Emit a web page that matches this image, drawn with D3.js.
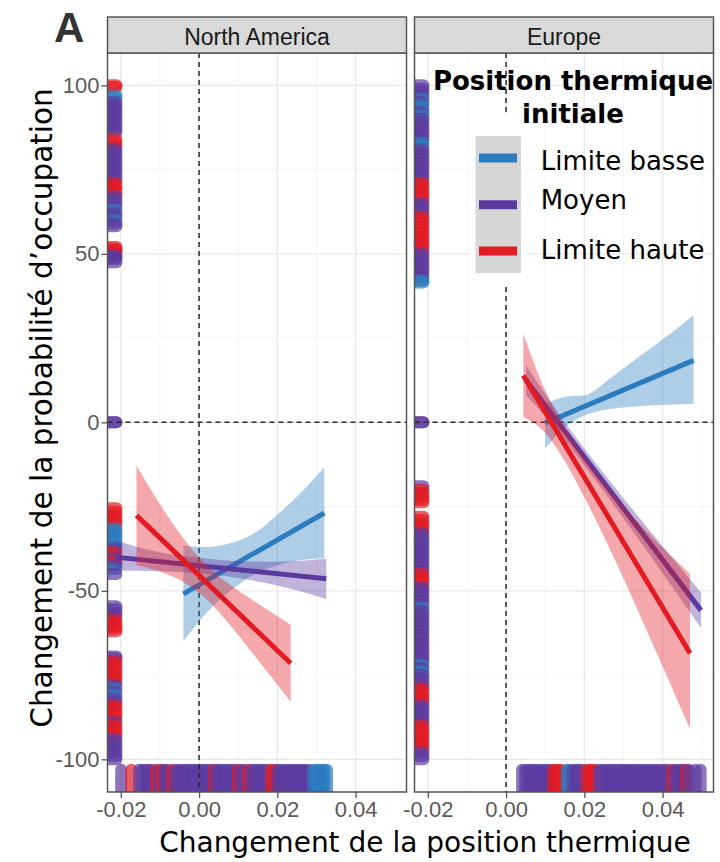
<!DOCTYPE html>
<html>
<head>
<meta charset="utf-8">
<script src="https://cdn.jsdelivr.net/npm/d3@7"></script>
<style>
  body { margin: 0; background: #fff; }
  svg { display: block; }
</style>
</head>
<body>
<svg id="chart" width="720" height="862"></svg>
<script>
// ---- categories and axis ticks ----
const regions = ["North America", "Europe"];
const groupNames = ["Limite basse", "Moyen", "Limite haute"];
const groupCodes = ["B", "M", "H"];
const groupColors = ["#2b7bbf", "#5b3a9f", "#e31a22"];
const xTicks = [-0.02, 0, 0.02, 0.04];
const xMinorTicks = [-0.01, 0.01, 0.03, 0.05];
const yTicks = [-100, -50, 0, 50, 100];
const yMinorTicks = [-75, -25, 25, 75];

// ---- fitted trends: [x, y] at the two ends ----
const naLineB = [[-0.004, -50.9], [0.032, -26.9]];
const naLineM = [[-0.0214, -40.0], [0.0325, -46.4]];
const naLineH = [[-0.016, -27.6], [0.0234, -71.5]];
const euLineB = [[0.010, -0.2], [0.0479, 18.4]];
const euLineM = [[0.0051, 12.5], [0.0498, -55.8]];
const euLineH = [[0.0044, 13.9], [0.047, -68.5]];

// ---- confidence bands: [x, lower, upper] ----
const naBandB = [[-0.004, -64.9, -36.6], [0.002, -56.4, -37.0], [0.008, -49.9, -35.9], [0.014, -45.2, -33.0],
                 [0.020, -42.4, -27.4], [0.026, -40.9, -20.9], [0.032, -40.3, -13.3]];
const naBandM = [[-0.0214, -44.0, -35.0], [-0.010, -44.2, -38.6], [0.000, -44.8, -40.2], [0.010, -46.2, -41.2],
                 [0.020, -48.4, -41.4], [0.0325, -52.4, -40.4]];
const naBandH = [[-0.016, -42.4, -12.8], [-0.010, -44.3, -24.3], [-0.004, -47.4, -34.4], [0.002, -52.6, -42.6],
                 [0.008, -60.3, -48.3], [0.014, -69.0, -53.0], [0.0234, -82.9, -60.1]];
const euBandB = [[0.010, -7.7, 5.5], [0.015, -1.5, 7.5], [0.020, 2.0, 8.0], [0.027, 4.0, 13.4],
                 [0.034, 4.8, 19.5], [0.041, 5.2, 25.5], [0.0479, 5.5, 31.8]];
const euBandM = [[0.0051, 8.0, 17.0], [0.012, -1.0, 5.0], [0.020, -12.8, -7.8], [0.030, -28.5, -22.5],
                 [0.040, -44.8, -36.8], [0.0498, -61.0, -50.5]];
const euBandH = [[0.0044, 1.6, 26.3], [0.009, -1.9, 12.1], [0.014, -9.6, 0.4], [0.020, -22.2, -10.2],
                 [0.027, -38.8, -20.8], [0.035, -59.3, -31.3], [0.047, -91.0, -45.0]];

// ---- species rugs: [value, group code] ----
const naRugY = [
  [100,"H"],[99.5,"H"],[97,"B"],[96,"B"],[95,"M"],[94,"M"],[93,"M"],[92,"M"],[91,"M"],[90,"M"],[89,"M"],[88,"M"],
  [87,"M"],[86,"M"],[84,"H"],[83,"H"],[82,"H"],[81,"M"],[80,"M"],[79,"M"],[78,"M"],[77,"M"],[76,"M"],[75,"M"],
  [74,"M"],[73,"M"],[72,"M"],[71,"H"],[70,"H"],[69,"H"],[68,"H"],[67,"M"],[66,"M"],[65,"M"],[64,"M"],[63,"B"],
  [62,"M"],[61,"M"],[60,"B"],[59,"M"],[58.2,"M"],
  [47.5,"M"],[52,"H"],[51.5,"H"],[51,"H"],[50.5,"H"],[49.5,"M"],[49,"M"],[48.5,"M"],
  [0,"M"],[0,"M"],
  [-25.5,"H"],[-26.5,"H"],[-27.5,"H"],[-28.5,"H"],[-29.5,"H"],[-30.5,"H"],[-31.5,"B"],[-32.5,"B"],[-33.5,"B"],
  [-34.5,"B"],[-35.5,"B"],[-36.5,"B"],[-37.5,"M"],[-38.5,"H"],[-39.5,"H"],[-40.5,"M"],[-41.5,"H"],[-42.5,"M"],
  [-43.5,"B"],[-45,"M"],
  [-54.6,"M"],[-55.5,"M"],[-56.5,"M"],[-57.5,"M"],[-58.5,"H"],[-59.5,"H"],[-60.5,"H"],[-61.2,"H"],[-62,"H"],
  [-69.5,"M"],[-70,"M"],[-71,"H"],[-72,"H"],[-73,"H"],[-74,"H"],[-75,"H"],[-76,"H"],[-77,"H"],[-78,"M"],
  [-79,"B"],[-80,"M"],[-81,"B"],[-82,"M"],[-83,"M"],[-84,"H"],[-85,"H"],[-86,"H"],[-87,"H"],[-88,"H"],[-89,"M"],
  [-90,"H"],[-91,"H"],[-92,"H"],[-93,"H"],[-94,"M"],[-95,"M"],[-96,"M"],[-97,"M"],[-98,"M"],[-99,"M"],[-100,"M"]
];
const naRugX = [
  [-0.0199,"M"],[-0.0173,"H"],
  [-0.0153,"M"],[-0.0145,"M"],[-0.0137,"M"],[-0.0129,"M"],[-0.0121,"M"],[-0.011,"H"],[-0.0102,"M"],[-0.0095,"H"],
  [-0.0088,"M"],[-0.008,"M"],[-0.0068,"H"],[-0.006,"M"],[-0.0052,"M"],[-0.0044,"M"],[-0.0036,"M"],[-0.0028,"M"],
  [-0.002,"M"],[-0.0012,"M"],[-0.0004,"M"],[0.0004,"M"],[0.0012,"M"],[0.002,"M"],[0.0028,"M"],[0.0038,"H"],
  [0.0044,"M"],[0.0052,"M"],[0.006,"M"],[0.0068,"M"],[0.0076,"M"],[0.0084,"M"],[0.0092,"M"],[0.01,"H"],
  [0.0108,"M"],[0.0116,"M"],[0.0126,"H"],[0.0134,"M"],[0.0142,"M"],[0.015,"M"],[0.0158,"M"],[0.0166,"M"],
  [0.0174,"M"],[0.0184,"H"],[0.0192,"H"],[0.02,"M"],[0.0208,"M"],[0.0216,"M"],[0.0224,"M"],[0.0232,"M"],
  [0.024,"M"],[0.0248,"M"],[0.0256,"M"],[0.0264,"M"],[0.0272,"M"],[0.028,"M"],[0.0292,"B"],[0.0299,"B"],
  [0.0306,"B"],[0.0313,"B"],[0.032,"B"],[0.0327,"B"]
];
const euRugY = [
  [100,"M"],[99,"M"],[98,"M"],[97,"M"],[96,"B"],[95,"M"],[94,"B"],[93,"B"],[92,"M"],[91,"B"],[90,"M"],[89,"M"],
  [88,"M"],[87,"M"],[86,"M"],[85,"M"],[84,"M"],[83,"B"],[82,"B"],[81,"M"],[80,"M"],[79,"M"],[78,"M"],[77,"M"],
  [76,"M"],[75,"M"],[74,"M"],[73,"M"],[72,"M"],[71,"H"],[70,"H"],[69,"H"],[68,"H"],[67,"H"],[66,"H"],[65,"M"],
  [64,"M"],[63,"M"],[62,"M"],[61,"H"],[60,"H"],[59,"H"],[58,"H"],[57,"H"],[56,"H"],[55,"H"],[54,"H"],[53,"H"],
  [52,"H"],[51,"H"],[50,"M"],[49,"M"],[48,"M"],[47,"M"],[46,"M"],[45,"M"],[44,"M"],[43,"M"],[42,"B"],[41.5,"B"],
  [0,"M"],[0,"M"],
  [-19,"M"],[-20,"H"],[-21,"H"],[-22,"H"],[-23,"H"],[-23.7,"H"],
  [-28,"H"],[-29,"H"],[-30,"H"],[-31,"H"],[-32,"H"],[-33,"M"],[-34,"M"],[-35,"M"],[-36,"M"],[-37,"M"],[-38,"M"],
  [-39,"M"],[-40,"M"],[-41,"M"],[-42,"M"],[-43,"M"],[-44,"M"],[-45,"H"],[-46,"H"],[-47,"H"],[-48,"H"],[-49,"M"],
  [-50,"M"],[-51,"M"],[-52,"M"],[-53,"M"],[-54,"M"],[-55,"B"],[-56,"M"],[-57,"M"],[-58,"M"],[-59,"M"],[-60,"M"],
  [-61,"M"],[-62,"M"],[-63,"M"],[-64,"M"],[-65,"M"],[-66,"M"],[-67,"M"],[-68,"M"],[-69,"M"],[-70,"M"],[-71,"M"],
  [-72,"B"],[-73,"M"],[-74,"B"],[-75,"M"],[-76,"M"],[-77,"M"],[-78,"M"],[-79,"H"],[-80,"H"],[-81,"H"],[-82,"H"],
  [-83,"H"],[-84,"M"],[-85,"M"],[-86,"M"],[-87,"M"],[-88,"M"],[-89,"M"],[-90,"H"],[-91,"H"],[-92,"H"],[-93,"H"],
  [-94,"H"],[-95,"H"],[-96,"H"],[-97,"H"],[-98,"M"],[-99,"M"],[-100,"M"]
];
const euRugX = [
  [0.0041,"M"],[0.0049,"M"],[0.0057,"M"],[0.0065,"M"],[0.0073,"M"],[0.0081,"M"],[0.0089,"M"],[0.0097,"M"],
  [0.0105,"M"],[0.0112,"M"],[0.012,"H"],[0.0127,"H"],[0.0134,"H"],[0.0141,"H"],[0.0155,"B"],[0.016,"B"],
  [0.017,"M"],[0.0178,"M"],[0.0186,"M"],[0.0194,"M"],[0.0206,"H"],[0.0213,"H"],[0.022,"H"],[0.0228,"H"],
  [0.0238,"M"],[0.0246,"M"],[0.0254,"M"],[0.0262,"M"],[0.027,"M"],[0.0278,"M"],[0.0286,"M"],[0.0294,"M"],
  [0.0302,"M"],[0.031,"M"],[0.0318,"M"],[0.0326,"M"],[0.0334,"M"],[0.0342,"M"],[0.035,"M"],[0.0358,"M"],
  [0.0366,"M"],[0.0374,"M"],[0.0382,"M"],[0.039,"M"],[0.0398,"M"],[0.0406,"M"],[0.0414,"M"],[0.0425,"H"],
  [0.0432,"M"],[0.044,"M"],[0.0448,"M"],[0.0455,"M"],[0.0461,"H"],[0.0468,"M"],[0.0484,"M"],[0.0497,"M"]
];

// ---- assemble the facets ----
const facets = [
  { name: regions[0], lines: [naLineB, naLineM, naLineH], bands: [naBandB, naBandM, naBandH], rugY: naRugY, rugX: naRugX },
  { name: regions[1], lines: [euLineB, euLineM, euLineH], bands: [euBandB, euBandM, euBandH], rugY: euRugY, rugX: euRugX }
];
const colorOf = code => groupColors[groupCodes.indexOf(code)];

// ---- layout ----
const svg = d3.select("#chart");
const panelLeft = [107.5, 414.5];
const panelW = 299;
const panelTop = 53, panelBottom = 792;
const stripTop = 17;
const tickFont = "'Liberation Sans', Arial, Helvetica, sans-serif";
const textFont = "'DejaVu Sans', Verdana, sans-serif";

const y = d3.scaleLinear().domain([-109.7, 109.6]).range([panelBottom, panelTop]);

svg.append("rect").attr("width", 720).attr("height", 862).attr("fill", "#fff");

facets.forEach((f, i) => {
  const x0 = panelLeft[i];
  const x = d3.scaleLinear().domain([-0.0234, 0.053]).range([x0, x0 + panelW]);
  const g = svg.append("g");
  const clipId = "clip" + i;
  svg.append("defs").append("clipPath").attr("id", clipId)
    .append("rect").attr("x", x0).attr("y", panelTop).attr("width", panelW).attr("height", panelBottom - panelTop);

  g.append("rect").attr("x", x0).attr("y", panelTop).attr("width", panelW)
    .attr("height", panelBottom - panelTop).attr("fill", "#fff");

  // grid
  const grid = g.append("g");
  grid.selectAll(".vmin").data(xMinorTicks).join("line")
    .attr("x1", d => x(d)).attr("x2", d => x(d)).attr("y1", panelTop).attr("y2", panelBottom)
    .attr("stroke", "#f2f2f2").attr("stroke-width", 0.8);
  grid.selectAll(".hmin").data(yMinorTicks).join("line")
    .attr("x1", x0).attr("x2", x0 + panelW).attr("y1", d => y(d)).attr("y2", d => y(d))
    .attr("stroke", "#f2f2f2").attr("stroke-width", 0.8);
  grid.selectAll(".vmaj").data(xTicks).join("line")
    .attr("x1", d => x(d)).attr("x2", d => x(d)).attr("y1", panelTop).attr("y2", panelBottom)
    .attr("stroke", "#e8e8e8").attr("stroke-width", 1.3);
  grid.selectAll(".hmaj").data(yTicks).join("line")
    .attr("x1", x0).attr("x2", x0 + panelW).attr("y1", d => y(d)).attr("y2", d => y(d))
    .attr("stroke", "#e8e8e8").attr("stroke-width", 1.3);

  const clipped = g.append("g").attr("clip-path", `url(#${clipId})`);

  // rugs along the left and bottom edges
  const rugLenX = 0.03 * panelW, rugLenY = 0.03 * (panelBottom - panelTop);
  clipped.append("g").selectAll("line").data(f.rugY).join("line")
    .attr("x1", x0).attr("x2", x0 + rugLenX)
    .attr("y1", d => y(d[0])).attr("y2", d => y(d[0]))
    .attr("stroke", d => colorOf(d[1])).attr("stroke-width", 12)
    .attr("stroke-linecap", "round").attr("stroke-opacity", 0.7);
  clipped.append("g").selectAll("line").data(f.rugX).join("line")
    .attr("x1", d => x(d[0])).attr("x2", d => x(d[0]))
    .attr("y1", panelBottom).attr("y2", panelBottom - rugLenY)
    .attr("stroke", d => colorOf(d[1])).attr("stroke-width", 12)
    .attr("stroke-linecap", "round").attr("stroke-opacity", 0.7);

  // reference lines at zero
  clipped.append("line").attr("x1", x(0)).attr("x2", x(0)).attr("y1", panelTop).attr("y2", panelBottom)
    .attr("stroke", "#2a2a2a").attr("stroke-width", 1.5).attr("stroke-dasharray", "5,4");
  clipped.append("line").attr("x1", x0).attr("x2", x0 + panelW).attr("y1", y(0)).attr("y2", y(0))
    .attr("stroke", "#2a2a2a").attr("stroke-width", 1.5).attr("stroke-dasharray", "5,4");

  // confidence bands and fitted lines, one group at a time
  const area = d3.area().x(d => x(d[0])).y0(d => y(d[1])).y1(d => y(d[2])).curve(d3.curveMonotoneX);
  const line = d3.line().x(d => x(d[0])).y(d => y(d[1]));
  groupCodes.forEach((c, k) => {
    clipped.append("path").attr("d", area(f.bands[k]))
      .attr("fill", groupColors[k]).attr("fill-opacity", 0.38);
    clipped.append("path").attr("d", line(f.lines[k]))
      .attr("fill", "none").attr("stroke", groupColors[k]).attr("stroke-width", 5);
  });

  // panel border
  g.append("rect").attr("x", x0).attr("y", panelTop).attr("width", panelW)
    .attr("height", panelBottom - panelTop).attr("fill", "none")
    .attr("stroke", "#555").attr("stroke-width", 1.5);

  // strip
  g.append("rect").attr("x", x0).attr("y", stripTop).attr("width", panelW).attr("height", panelTop - stripTop)
    .attr("fill", "#d9d9d9").attr("stroke", "#555").attr("stroke-width", 1.5);
  g.append("text").attr("x", x0 + panelW / 2).attr("y", 45).attr("text-anchor", "middle")
    .attr("font-family", tickFont).attr("font-size", 23).attr("fill", "#1a1a1a").text(f.name);

  // x axis
  const ax = g.append("g").attr("transform", `translate(0,${panelBottom})`)
    .call(d3.axisBottom(x).tickValues(xTicks).tickFormat(d => d.toFixed(2)).tickSize(6).tickPadding(3));
  ax.select(".domain").remove();
  ax.selectAll("line").attr("stroke", "#555").attr("stroke-width", 1.3);
  ax.selectAll("text").attr("font-family", tickFont).attr("font-size", 22).attr("fill", "#5a5a5a");

  if (i === 0) {
    const ay = g.append("g").attr("transform", `translate(${x0},0)`)
      .call(d3.axisLeft(y).tickValues(yTicks).tickFormat(d => String(d)).tickSize(6).tickPadding(2));
    ay.select(".domain").remove();
    ay.selectAll("line").attr("stroke", "#555").attr("stroke-width", 1.3);
    ay.selectAll("text").attr("font-family", tickFont).attr("font-size", 22).attr("fill", "#5a5a5a");
  }
});

// axis titles
svg.append("text").attr("x", 425).attr("y", 852).attr("text-anchor", "middle")
  .attr("font-family", textFont).attr("font-size", 28).attr("fill", "#000")
  .text("Changement de la position thermique");
svg.append("text").attr("transform", "translate(52,408) rotate(-90)").attr("text-anchor", "middle")
  .attr("font-family", textFont).attr("font-size", 29.5).attr("fill", "#000")
  .text("Changement de la probabilité d’occupation");

// panel tag
svg.append("text").attr("x", 54).attr("y", 42)
  .attr("font-family", "'Liberation Sans Narrow', 'Arial Narrow', sans-serif")
  .attr("font-weight", "bold").attr("font-size", 42).attr("fill", "#333").text("A");

// legend
const legend = svg.append("g");
legend.append("rect").attr("x", 470).attr("y", 114).attr("width", 56).attr("height", 172).attr("fill", "#fff");
legend.append("rect").attr("x", 475.5).attr("y", 136).attr("width", 45.5).attr("height", 137).attr("fill", "#d6d6d6");
const legendTitle = legend.append("text").attr("text-anchor", "middle")
  .attr("font-family", textFont).attr("font-weight", "bold").attr("font-size", 26).attr("fill", "#000");
legendTitle.append("tspan").attr("x", 573).attr("y", 90).text("Position thermique");
legendTitle.append("tspan").attr("x", 573).attr("y", 123).text("initiale");
const keyY = [158, 204.7, 251];
const labelY = [170, 208.7, 259];
groupNames.forEach((name, k) => {
  legend.append("line").attr("x1", 479).attr("x2", 517).attr("y1", keyY[k]).attr("y2", keyY[k])
    .attr("stroke", groupColors[k]).attr("stroke-width", 9);
  legend.append("text").attr("x", 540.7).attr("y", labelY[k])
    .attr("font-family", textFont).attr("font-size", 26).attr("fill", "#000").text(name);
});
</script>
</body>
</html>
